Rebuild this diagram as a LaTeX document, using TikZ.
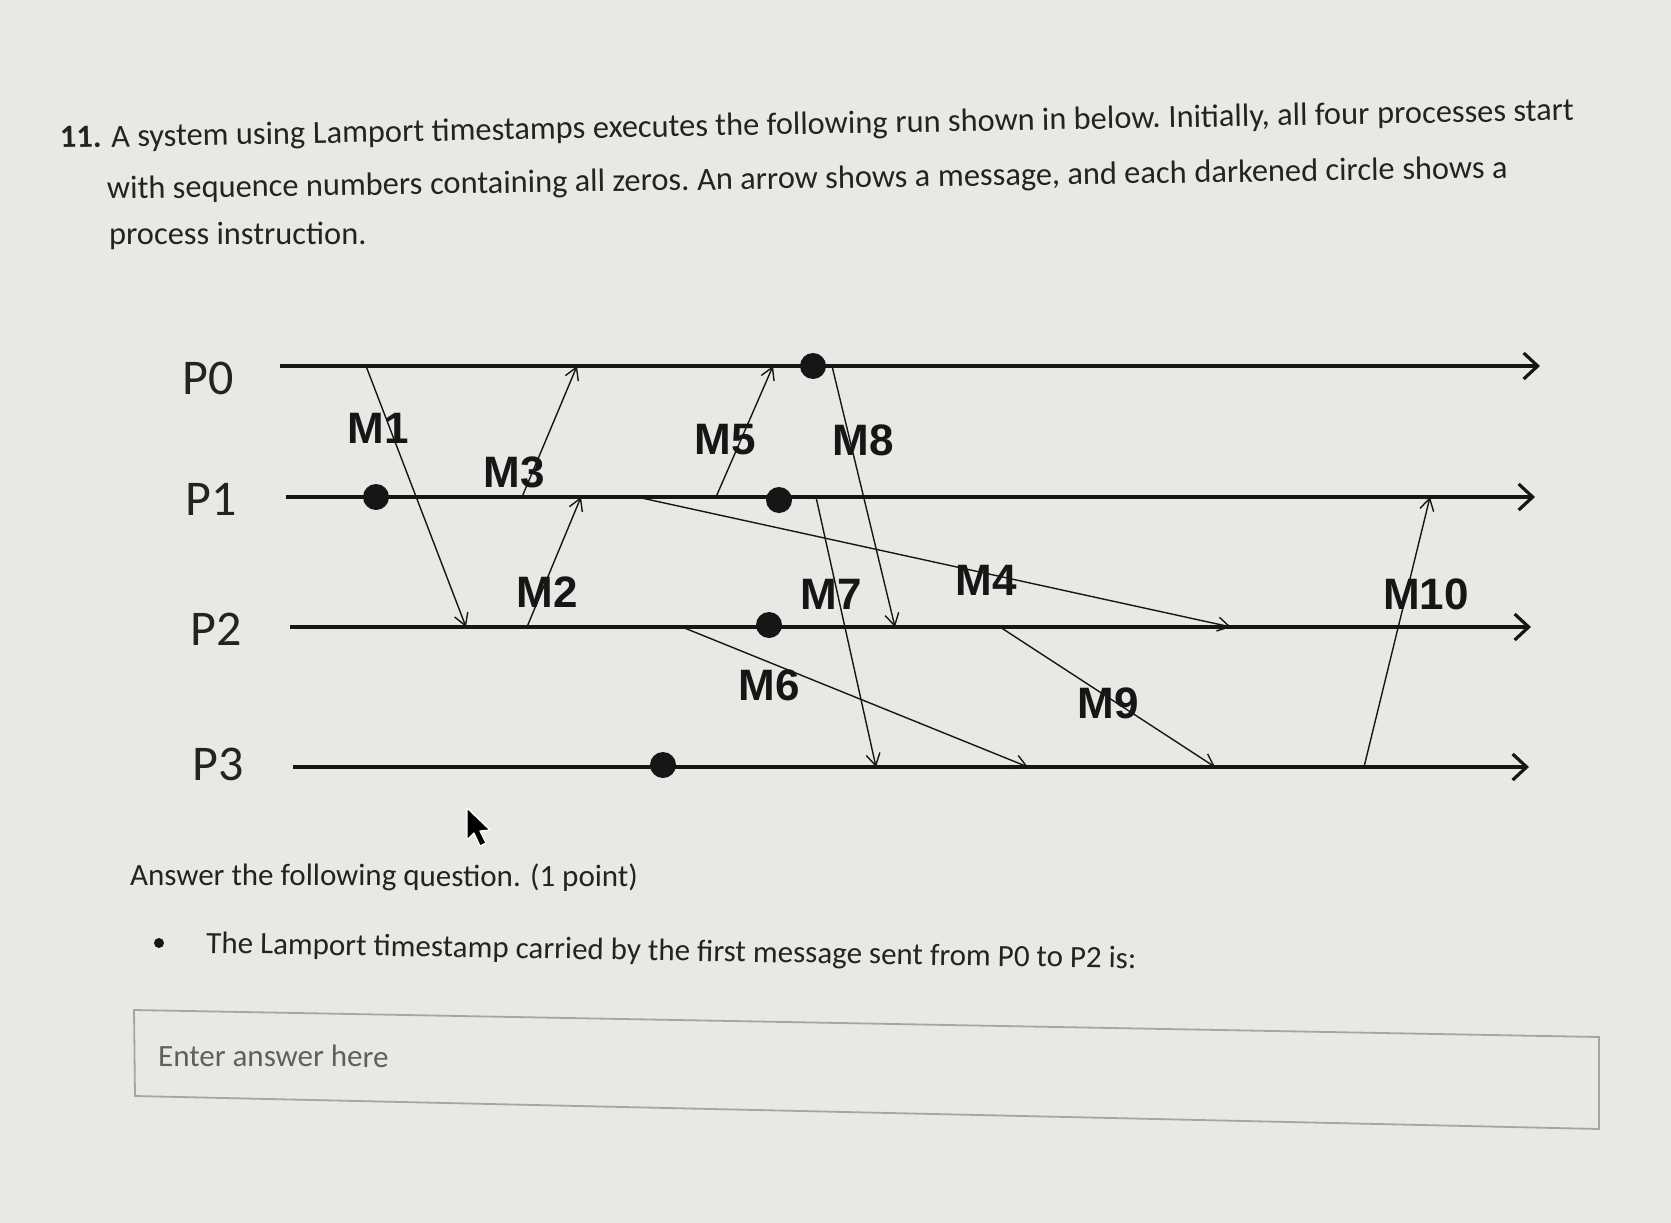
\documentclass[tikz,border=0pt]{standalone}
\usepackage{fontspec}
\setmainfont{Carlito}
\newfontfamily\arialfont{Liberation Sans}
\usetikzlibrary{arrows.meta}
\definecolor{bg}{RGB}{233,232,228}
\definecolor{ink}{RGB}{22,22,22}
\definecolor{txt}{RGB}{35,35,35}
\definecolor{boxline}{RGB}{165,165,163}
\definecolor{hint}{RGB}{95,95,95}
\begin{document}
\begin{tikzpicture}[x=1pt,y=-1pt,
  proc/.style={line width=3.2pt, draw=ink, -{Straight Barb[length=14pt,width=26pt]}},
  msg/.style={line width=1.4pt, draw=ink, -{Straight Barb[length=12pt,width=14pt]}},
  ev/.style={circle, fill=ink, inner sep=0pt, minimum size=26pt},
  plabel/.style={font=\fontsize{50}{60}\selectfont, text=txt},
  mlabel/.style={font=\arialfont\bfseries\fontsize{44}{50}\selectfont, text=ink},
  body/.style={font=\fontsize{32.4}{38}\selectfont, text=txt, anchor=base west, inner sep=0pt},
  lineone/.style={body, rotate=1.05},
  linetwo/.style={body, rotate=0.86},
  lowbody/.style={body, font=\fontsize{31}{37}\selectfont},
]
\useasboundingbox (0,0) rectangle (1671,1223);
\fill[bg] (0,0) rectangle (1671,1223);

% question text (each line set in pieces that follow its slope)
\node[lineone] (t1a) at (60,148) {\textbf{11.} A system using};
\node[lineone] (t1b) at (t1a.base east) {\ Lamport timestamps};
\node[lineone] (t1c) at (t1b.base east) {\ executes the following};
\node[lineone] (t1d) at (t1c.base east) {\ run shown in below.};
\node[lineone] (t1e) at (t1d.base east) {\ Initially, all four};
\node[lineone] (t1f) at (t1e.base east) {\ processes start};
\node[linetwo] (t2a) at (107,199) {with sequence numbers};
\node[linetwo] (t2b) at (t2a.base east) {\ containing all zeros.};
\node[linetwo] (t2c) at (t2b.base east) {\ An arrow shows a};
\node[linetwo] (t2d) at (t2c.base east) {\ message, and each};
\node[linetwo] (t2e) at (t2d.base east) {\ darkened circle};
\node[linetwo] (t2f) at (t2e.base east) {\ shows a};
\node[body] (t3) at (109,244) {process instruction.};

% process labels
\node[plabel] (p0) at (208,378) {P0};
\node[plabel] (p1) at (211,499) {P1};
\node[plabel] (p2) at (216,629) {P2};
\node[plabel] (p3) at (218,764) {P3};

% process lines
\coordinate (p0s) at (280,366); \coordinate (p0e) at (1540,366);
\coordinate (p1s) at (286,497); \coordinate (p1e) at (1535,497);
\coordinate (p2s) at (290,627); \coordinate (p2e) at (1531,627);
\coordinate (p3s) at (293,767); \coordinate (p3e) at (1529,767);
\draw[proc] (p0s) -- (p0e);
\draw[proc] (p1s) -- (p1e);
\draw[proc] (p2s) -- (p2e);
\draw[proc] (p3s) -- (p3e);

% message end points
\coordinate (m1a) at (366,366);  \coordinate (m1b) at (466,627);
\coordinate (m3a) at (522,497);  \coordinate (m3b) at (577,366);
\coordinate (m2a) at (527,627);  \coordinate (m2b) at (581,497);
\coordinate (m5a) at (716,497);  \coordinate (m5b) at (773,366);
\coordinate (m8a) at (832,366);  \coordinate (m8b) at (895,627);
\coordinate (m4a) at (637,497);  \coordinate (m4b) at (1231,627);
\coordinate (m7a) at (816,497);  \coordinate (m7b) at (876,767);
\coordinate (m6a) at (682,627);  \coordinate (m6b) at (1028,767);
\coordinate (m9a) at (1000,627); \coordinate (m9b) at (1215,767);
\coordinate (m10a) at (1364,767); \coordinate (m10b) at (1430,497);

\draw[msg] (m1a) -- (m1b);
\draw[msg] (m3a) -- (m3b);
\draw[msg] (m2a) -- (m2b);
\draw[msg] (m5a) -- (m5b);
\draw[msg] (m8a) -- (m8b);
\draw[msg] (m4a) -- (m4b);
\draw[msg] (m7a) -- (m7b);
\draw[msg] (m6a) -- (m6b);
\draw[msg] (m9a) -- (m9b);
\draw[msg] (m10a) -- (m10b);

% events
\node[ev] (e1) at (376,497) {};
\node[ev] (e2) at (813,366) {};
\node[ev] (e3) at (779,500) {};
\node[ev] (e4) at (769,625) {};
\node[ev] (e5) at (663,765) {};

% message labels
\node[mlabel] (l1) at (378,428) {M1};
\node[mlabel] (l3) at (514,472) {M3};
\node[mlabel] (l2) at (547,592) {M2};
\node[mlabel] (l5) at (725,440) {M5};
\node[mlabel] (l8) at (863,440) {M8};
\node[mlabel] (l4) at (986,580) {M4};
\node[mlabel] (l7) at (831,594) {M7};
\node[mlabel] (l6) at (769,685) {M6};
\node[mlabel] (l9) at (1108,703) {M9};
\node[mlabel] (l10) at (1426,594) {M10};

% mouse cursor
\draw[fill=black, draw=white, line width=1.2pt, line join=round]
  (467,808) -- ++(0,32) -- ++(7,-7) -- ++(6,13) -- ++(6,-3) -- ++(-6,-12) -- ++(10,-1) -- cycle;

% answer part
\node[lowbody, rotate=-0.2] (q) at (130,885) {Answer the following question. (1 point)};
\node[circle, fill=ink, inner sep=0pt, minimum size=10pt] (bul) at (159,943) {};
\node[lowbody, rotate=-0.95] (q2) at (206,953) {The Lamport timestamp carried by the first message sent from P0 to P2 is:};
\draw[boxline, line width=1.8pt] (134,1010) -- (1599,1037) -- (1599,1129) -- (135,1096) -- cycle;
\node[lowbody, text=hint, rotate=-0.3] (ans) at (158,1066) {Enter answer here};
\end{tikzpicture}
\end{document}
